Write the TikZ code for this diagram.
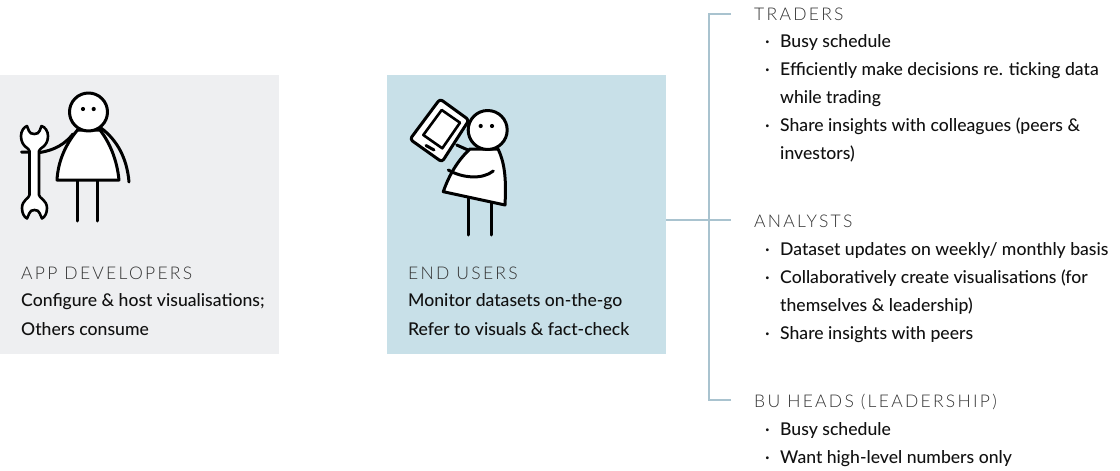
\documentclass[tikz,border=0pt]{standalone}
\usepackage{fontspec}
\setmainfont{Lato Medium}
\newfontfamily\capsfont[LetterSpace=13]{Lato Light}
\definecolor{grayBox}{HTML}{EEEFF1}
\definecolor{blueBox}{HTML}{C8E0E8}
\definecolor{lineBlue}{HTML}{A9C3CF}
\definecolor{ink}{HTML}{111111}
\definecolor{capsInk}{HTML}{333333}
\tikzset{
  panel/.style={inner sep=0,minimum width=279pt,minimum height=279pt,anchor=north west,draw=none},
  heading/.style={anchor=base west,inner sep=0,text=capsInk,font=\capsfont\fontsize{17.5}{20}\selectfont},
  bodytext/.style={anchor=base west,inner sep=0,text=ink,font=\fontsize{17.6}{20}\selectfont},
  dotmark/.style={anchor=base west,inner sep=0,text=ink,font=\fontsize{17.6}{20}\selectfont},
  conn/.style={draw=lineBlue,line width=1.4pt},
  fig/.style={draw=black,line width=3pt,line join=round,line cap=round},
  figfill/.style={fig,fill=white}
}
\begin{document}
\begin{tikzpicture}[x=1pt,y=-1pt]
\useasboundingbox (0,0) rectangle (1120,471);
\node[panel,fill=grayBox] (dev) at (0,75) {};
\node[panel,fill=blueBox] (end) at (387,75) {};
% connectors
\coordinate (hub) at (709,220);
\coordinate (tTop) at (731,14);
\coordinate (tMid) at (731,220);
\coordinate (tBot) at (731,400);
\draw[conn] (tTop) -| (hub);
\draw[conn] (tBot) -| (hub);
\draw[conn] (end.east |- hub) -- (tMid);
% left figure
\draw[fig] (129,182) .. controls (127,158) and (117,140) .. (101,128);
\draw[fig] (21.5,152) -- (40,152.5) .. controls (55,150) and (65,144) .. (73,134);
\draw[fig] (77.7,180) -- (77.7,221);
\draw[fig] (97.7,180) -- (97.7,221);
\draw[figfill] (77.5,130) .. controls (65,145) and (58,162) .. (57,180) -- (119,180) .. controls (117,160) and (110,143) .. (100,130) -- cycle;
\draw[figfill] (88.5,112) circle (19);
\fill (83,109) circle (2.1) (93.7,109) circle (2.1);
% wrench
\draw[figfill,line width=2.6pt] (29.5,151)
 .. controls (29.5,148) and (21,147) .. (21,136)
 .. controls (21,131) and (24,127) .. (27,126)
 -- (29,131) .. controls (29.5,135) and (39,135) .. (39.5,131)
 -- (41.5,126) .. controls (45,127) and (48,131) .. (48,136)
 .. controls (48,147) and (39,148) .. (39,151)
 -- (39,195)
 .. controls (39,198) and (47,200) .. (47,208)
 .. controls (47,213) and (45,217) .. (42,218.5)
 -- (39.5,213) .. controls (39,209) and (30,209) .. (29.5,213)
 -- (27,218.5) .. controls (24,217) and (22,213) .. (22,208)
 .. controls (22,200) and (29.5,198) .. (29.5,195) -- cycle;
% right figure
\draw[fig] (456.7,145) -- (468,150);
\draw[fig] (468.3,198) -- (468.3,235);
\draw[fig] (491,203) -- (491,235);
\draw[figfill,rounded corners=3pt] (440,99) -- (469,120) -- (442,162) -- (410,139.3) -- cycle;
\draw[fig,line width=2.6pt] (441.7,110) -- (460,122.7) -- (442.3,148.3) -- (423.3,135) -- cycle;
\draw[fig] (426,145.5) -- (434,150);
\draw[figfill] (470,149) .. controls (458,160) and (449,175) .. (443.3,191.7) -- (505,205) .. controls (506,185) and (506,165) .. (498,149) -- cycle;
\draw[fig] (448.3,170) .. controls (462,178) and (482,180) .. (493.3,171);
\draw[figfill] (487.7,130) circle (19.5);
\fill (480.7,126) circle (2.1) (492,126) circle (2.1);
% left texts
\node[heading] (h1) at (21,279) {APP DEVELOPERS};
\node[bodytext] (l1) at (21,306) {Configure \& host visualisations;};
\node[bodytext] (l2) at (21,335) {Others consume};
\node[heading] (h2) at (408,279) {END USERS};
\node[bodytext] (m1) at (408,306) {Monitor datasets on-the-go};
\node[bodytext] (m2) at (408,335) {Refer to visuals \& fact-check};
% traders
\node[heading] (tr) at (754,20) {TRADERS};
\node[dotmark] (tb1) at (765,47) {·};
\node[bodytext] (t1) at (780,47) {Busy schedule};
\node[dotmark] (tb2) at (765,75) {·};
\node[bodytext] (t2) at (780,75) {Efficiently make decisions re. ticking data};
\node[bodytext] (t3) at (780,103) {while trading};
\node[dotmark] (tb3) at (765,131) {·};
\node[bodytext] (t4) at (780,131) {Share insights with colleagues (peers \&};
\node[bodytext] (t5) at (780,159) {investors)};
% analysts
\node[heading] (an) at (754,227) {ANALYSTS};
\node[dotmark] (ab1) at (765,255) {·};
\node[bodytext] (a1) at (780,255) {Dataset updates on weekly/ monthly basis};
\node[dotmark] (ab2) at (765,283) {·};
\node[bodytext] (a2) at (780,283) {Collaboratively create visualisations (for};
\node[bodytext] (a3) at (780,311) {themselves \& leadership)};
\node[dotmark] (ab3) at (765,339) {·};
\node[bodytext] (a4) at (780,339) {Share insights with peers};
% heads
\node[heading] (bu) at (754,407) {BU HEADS (LEADERSHIP)};
\node[dotmark] (bb1) at (765,435) {·};
\node[bodytext] (b1) at (780,435) {Busy schedule};
\node[dotmark] (bb2) at (765,463) {·};
\node[bodytext] (b2) at (780,463) {Want high-level numbers only};
\end{tikzpicture}
\end{document}
